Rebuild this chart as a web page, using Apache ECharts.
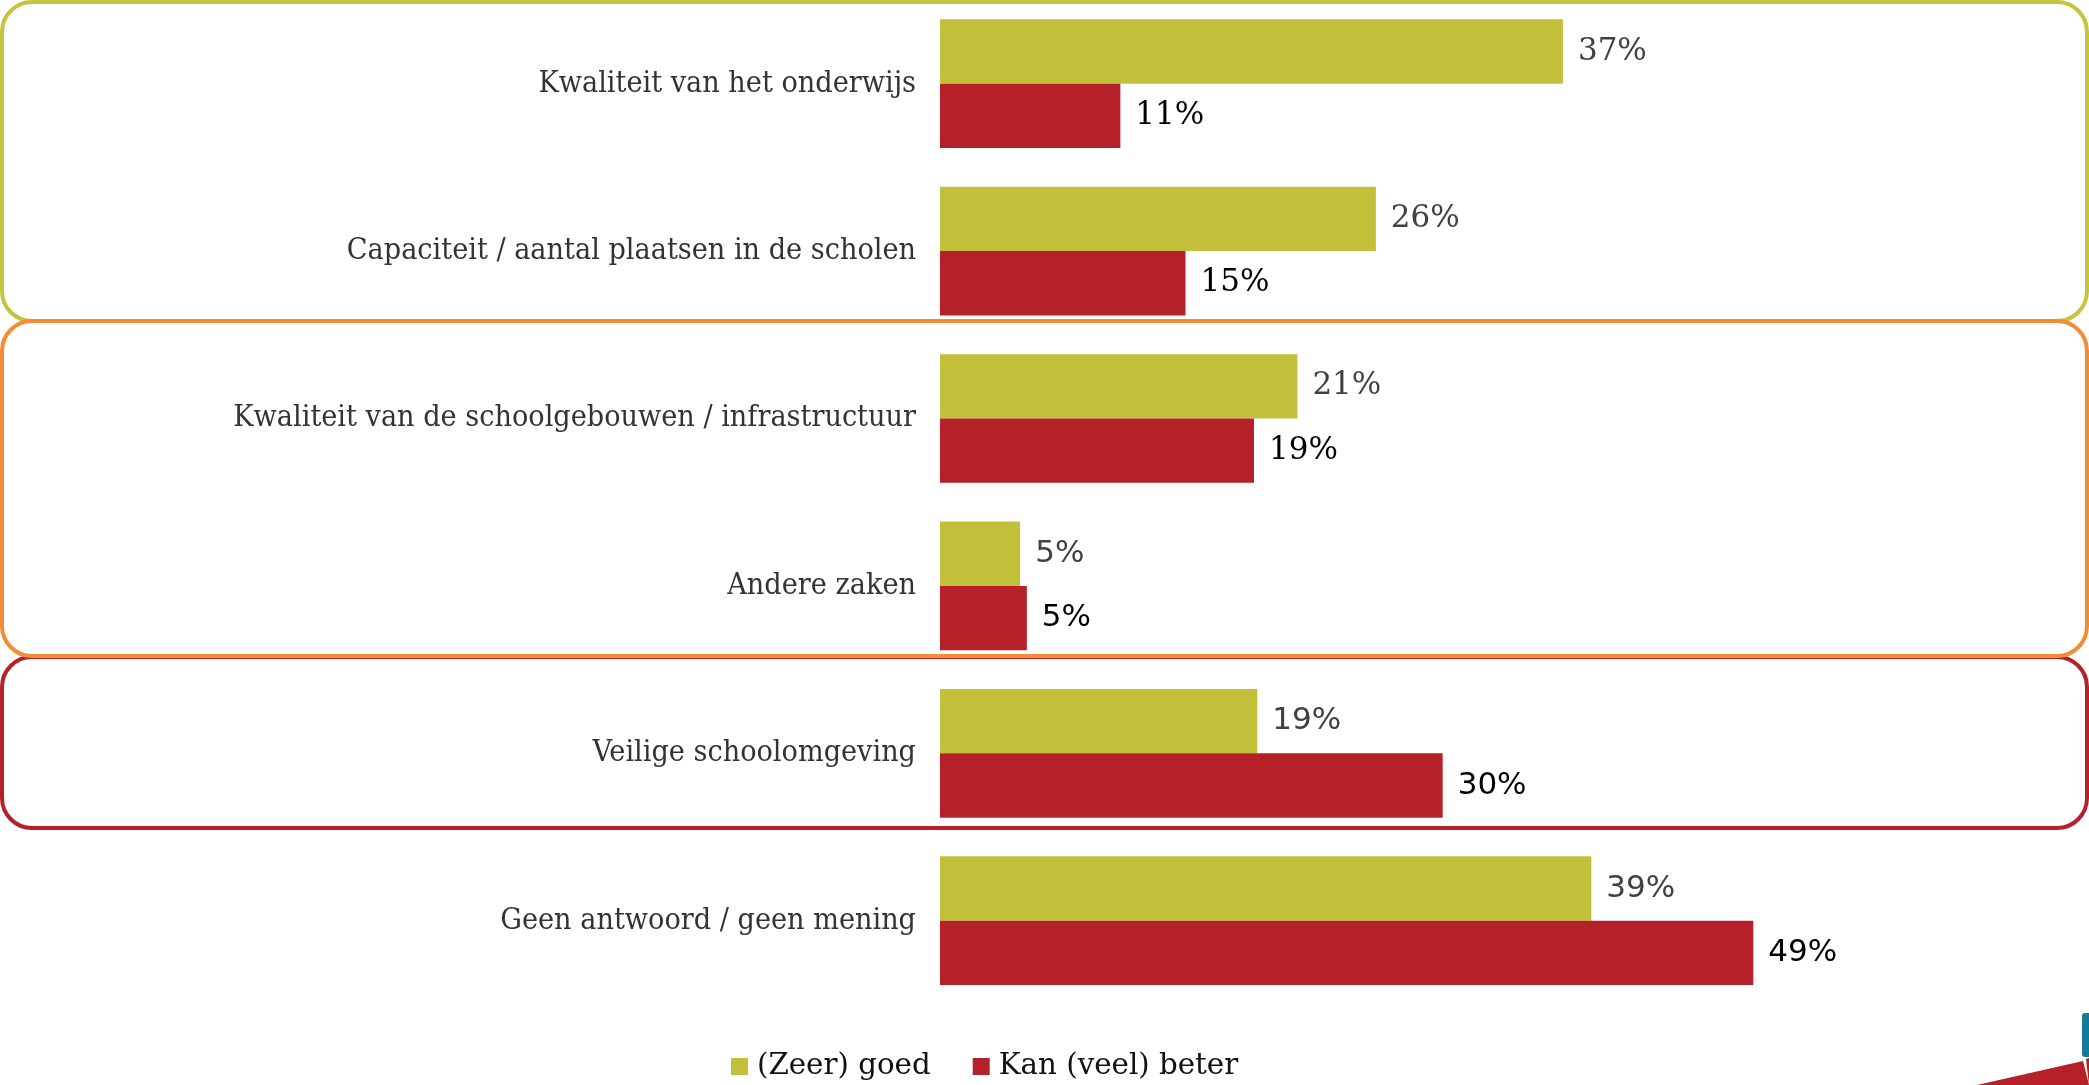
<!DOCTYPE html>
<html>
<head>
<meta charset="utf-8">
<script src="https://cdn.jsdelivr.net/npm/echarts@6/dist/echarts.min.js"></script>
<style>
html,body{margin:0;padding:0;background:#fff;}
#chart{width:2089px;height:1085px;}
</style>
</head>
<body>
<div id="chart"></div>
<script>
const categories = [
  'Kwaliteit van het onderwijs',
  'Capaciteit / aantal plaatsen in de scholen',
  'Kwaliteit van de schoolgebouwen / infrastructuur',
  'Andere zaken',
  'Veilige schoolomgeving',
  'Geen antwoord / geen mening'
];
const seriesNames = ['(Zeer) goed', 'Kan (veel) beter'];
const goedValues = [37.3, 26.1, 21.4, 4.8, 19.0, 39.0];
const beterValues = [10.8, 14.7, 18.8, 5.2, 30.1, 48.7];

const GREEN = '#c2bf3a';
const RED = '#b52029';
const ORANGE = '#f28d36';

const SERIF = 'DejaVu Serif';
const SANS = 'DejaVu Sans';
// label face per row: 's' = serif, 'n' = sans (as in the original)
const goedFaces = ['s', 's', 's', 'n', 'n', 'n'];
const beterFaces = ['s', 's', 's', 'n', 'n', 'n'];

function labelFor(faces, color) {
  return {
    show: true,
    position: 'right',
    distance: 15,
    fontFamily: SERIF,
    fontSize: 31,
    color: color,
    formatter: p => {
      const t = Math.round(p.value) + '%';
      return faces[p.dataIndex] === 'n' ? '{n|' + t + '}' : t;
    },
    rich: {
      n: { fontFamily: SANS, fontSize: 31, color: color }
    }
  };
}

const chart = echarts.init(document.getElementById('chart'), null, { renderer: 'canvas' });

function box(x, y, w, h, color) {
  return {
    type: 'rect',
    silent: true,
    shape: { x: x, y: y, width: w, height: h, r: 30 },
    style: { fill: 'none', stroke: color, lineWidth: 4 }
  };
}

chart.setOption({
  animation: false,
  backgroundColor: '#fff',
  grid: { left: 940, right: 147, top: -2.6, bottom: 80.6, containLabel: false },
  xAxis: { type: 'value', min: 0, max: 60, show: false },
  yAxis: {
    type: 'category',
    data: categories,
    inverse: true,
    axisLine: { show: false },
    axisTick: { show: false },
    splitLine: { show: false },
    axisLabel: {
      margin: 24,
      color: '#333333',
      fontFamily: '"DejaVu Serif Condensed", "DejaVu Serif", serif',
      fontSize: 30.2
    }
  },
  legend: {
    data: seriesNames,
    left: 726,
    top: 1047,
    icon: 'rect',
    itemWidth: 17,
    itemHeight: 17,
    itemGap: 42,
    textStyle: { fontFamily: SERIF, fontSize: 29.3, color: '#111', padding: [0, 0, 0, 4] }
  },
  series: [
    {
      name: seriesNames[0],
      type: 'bar',
      barGap: '0%',
      barCategoryGap: '23.1%',
      itemStyle: { color: GREEN },
      label: labelFor(goedFaces, '#404040'),
      data: goedValues
    },
    {
      name: seriesNames[1],
      type: 'bar',
      itemStyle: { color: RED },
      label: labelFor(beterFaces, '#000000'),
      data: beterValues
    }
  ],
  graphic: [
    box(2, 2, 2085, 319, '#c6c43c'),
    box(2, 657, 2085, 171, RED),
    box(2, 321, 2085, 335, ORANGE),
    {
      type: 'rect', silent: true,
      shape: { x: 2082, y: 1013, width: 12, height: 44, r: 3 },
      style: { fill: '#137a98' }
    },
    {
      type: 'polygon', silent: true,
      shape: { points: [[1977, 1085], [2083, 1061], [2089, 1085]] },
      style: { fill: RED }
    },
    {
      type: 'polygon', silent: true,
      shape: { points: [[2086, 1059], [2089, 1058], [2089, 1085]] },
      style: { fill: RED }
    }
  ]
});
</script>
</body>
</html>
